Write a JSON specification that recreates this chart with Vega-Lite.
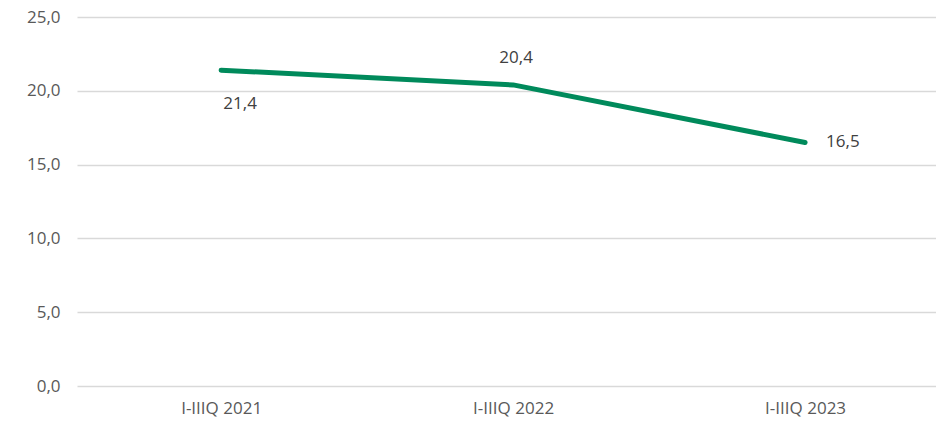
{
  "$schema": "https://vega.github.io/schema/vega-lite/v6.json",
  "autosize": "none",
  "width": 859,
  "height": 369,
  "padding": {"left": 77, "top": 17, "right": 0, "bottom": 36},
  "background": "#ffffff",
  "config": {
    "view": {"stroke": null},
    "locale": {"number": {"decimal": ",", "thousands": ".", "grouping": [3], "currency": ["", " €"]}},
    "font": "Open Sans"
  },
  "data": {"values": [
    {"period": "I-IIIQ 2021", "value": 21.4, "pos": "below"},
    {"period": "I-IIIQ 2022", "value": 20.4, "pos": "above"},
    {"period": "I-IIIQ 2023", "value": 16.5, "pos": "right"}
  ]},
  "encoding": {
    "x": {"field": "period", "type": "ordinal", "sort": null,
      "scale": {"type": "point", "padding": 0.471, "align": 0.524},
      "axis": {"title": null, "labelAngle": 0, "domain": false, "ticks": false, "grid": false,
        "labelFontSize": 17, "labelColor": "#595959", "labelPadding": 14, "labelFont": "Open Sans"}},
    "y": {"field": "value", "type": "quantitative",
      "scale": {"domain": [0, 25], "nice": false},
      "axis": {"title": null, "values": [0, 5, 10, 15, 20, 25], "format": ".1f", "domain": false, "ticks": false,
        "gridColor": "#d9d9d9", "gridWidth": 1.5, "labelFontSize": 17, "labelColor": "#595959",
        "labelPadding": 17, "labelFont": "Open Sans"}}
  },
  "layer": [
    {"mark": {"type": "line", "color": "#008A5B", "strokeWidth": 5, "strokeCap": "round", "strokeJoin": "round"}},
    {"transform": [{"filter": "datum.pos === 'below'"}],
     "mark": {"type": "text", "dx": 19, "dy": 34, "fontSize": 17, "color": "#404040"},
     "encoding": {"text": {"field": "value", "type": "quantitative", "format": ".1f"}}},
    {"transform": [{"filter": "datum.pos === 'above'"}],
     "mark": {"type": "text", "dx": 3, "dy": -27, "fontSize": 17, "color": "#404040"},
     "encoding": {"text": {"field": "value", "type": "quantitative", "format": ".1f"}}},
    {"transform": [{"filter": "datum.pos === 'right'"}],
     "mark": {"type": "text", "dx": 21, "align": "left", "fontSize": 17, "color": "#404040"},
     "encoding": {"text": {"field": "value", "type": "quantitative", "format": ".1f"}}}
  ]
}
